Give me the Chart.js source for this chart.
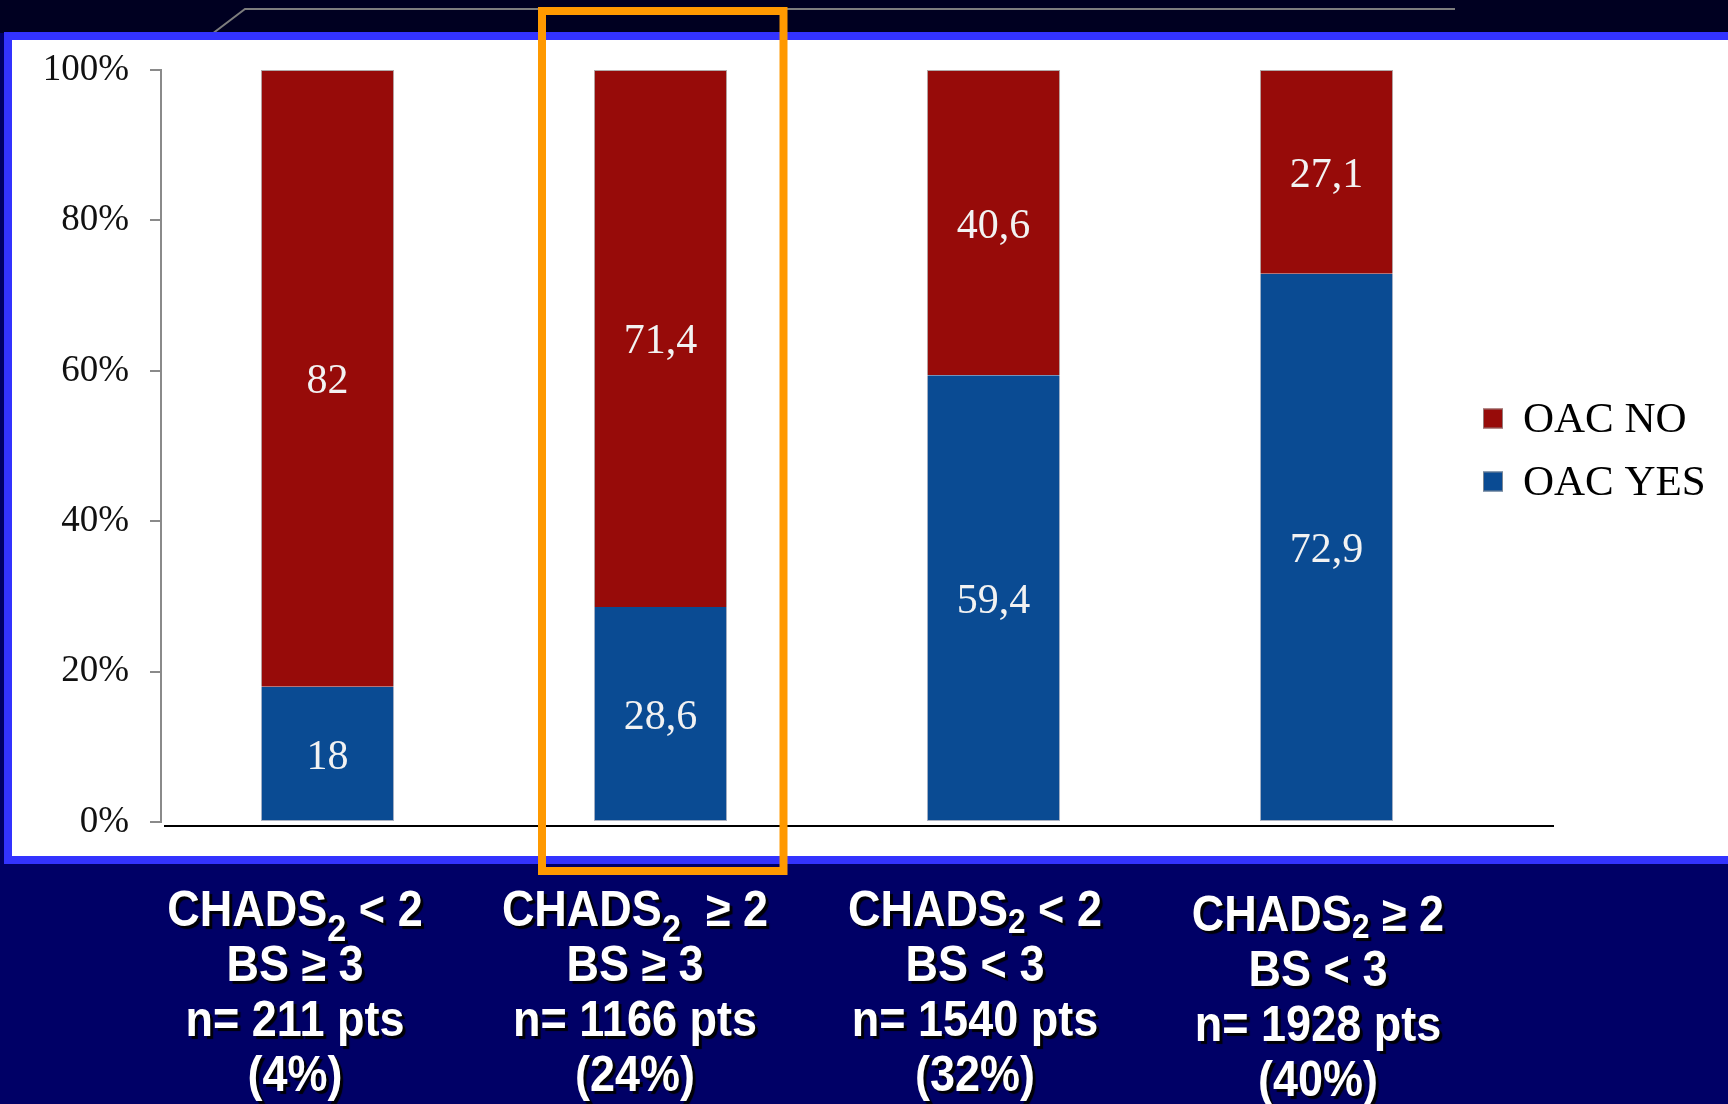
<!DOCTYPE html>
<html>
<head>
<meta charset="utf-8">
<title>OAC use by CHADS2 and bleeding score</title>
<script src="https://cdn.jsdelivr.net/npm/chart.js@4.4.1/dist/chart.umd.min.js"></script>
<style>
  html, body { margin: 0; padding: 0; background: #000066; overflow: hidden; }
  #wrap { width: 1728px; height: 1104px; }
  canvas { display: block; }
</style>
</head>
<body>
<div id="wrap"><canvas id="chart" width="1728" height="1104"></canvas></div>
<script>
// ---- data ----
const chadsRule = ['< 2', '≥ 2', '< 2', '≥ 2'];
const bsRule = ['≥ 3', '≥ 3', '< 3', '< 3'];
const patientCounts = [211, 1166, 1540, 1928];
const patientShare = [4, 24, 32, 40];
const oacYes = [18, 28.6, 59.4, 72.9];
const oacNo = [82, 71.4, 40.6, 27.1];
const seriesNames = ['OAC YES', 'OAC NO'];
const percentTicks = [0, 20, 40, 60, 80, 100];

const categories = chadsRule.map((c, i) => [
  'CHADS2 ' + c,
  'BS ' + bsRule[i],
  'n= ' + patientCounts[i] + ' pts',
  '(' + patientShare[i] + '%)'
]);

// ---- styling ----
const RED = '#970b09';
const BLUE = '#0a4b93';
const SERIF = "'Liberation Serif', 'Times New Roman', serif";
const SANS = "'Liberation Sans', Arial, sans-serif";

const fmt = v => String(v).replace('.', ',');

// slide frame: dark header band, blue framed white panel, gray rule
const framePlugin = {
  id: 'frame',
  beforeDraw(chart) {
    const ctx = chart.ctx;
    const W = chart.width, H = chart.height;
    ctx.save();
    ctx.fillStyle = '#000066';
    ctx.fillRect(0, 0, W, H);
    ctx.fillStyle = '#000021';
    ctx.fillRect(0, 0, W, 33);
    // thin gray rule in the header
    ctx.strokeStyle = '#7d7d7d';
    ctx.lineWidth = 2;
    ctx.beginPath();
    ctx.moveTo(212, 34);
    ctx.lineTo(245, 9);
    ctx.lineTo(1455, 9);
    ctx.stroke();
    // white panel with blue frame
    ctx.fillStyle = '#ffffff';
    ctx.fillRect(8, 36, W, 824);
    ctx.strokeStyle = '#3333ff';
    ctx.lineWidth = 8;
    ctx.strokeRect(8, 36, W + 20, 824);
    ctx.restore();
  }
};

// value labels centred in each stacked segment
const valueLabelPlugin = {
  id: 'valueLabels',
  afterDatasetsDraw(chart) {
    const ctx = chart.ctx;
    ctx.save();
    ctx.font = '42px ' + SERIF;
    ctx.fillStyle = '#f2f2f2';
    ctx.textAlign = 'center';
    ctx.textBaseline = 'middle';
    chart.data.datasets.forEach((ds, di) => {
      const meta = chart.getDatasetMeta(di);
      meta.data.forEach((bar, i) => {
        const { x, y, base } = bar.getProps(['x', 'y', 'base'], true);
        ctx.fillText(fmt(ds.data[i]), x, (y + base) / 2 + 4);
      });
    });
    ctx.restore();
  }
};

// baseline rule, legend, group captions and highlight box
const overlayPlugin = {
  id: 'overlay',
  afterDraw(chart) {
    const ctx = chart.ctx;
    const area = chart.chartArea;
    const yScale = chart.scales.y;
    ctx.save();

    // black baseline under the bars
    const y0 = yScale.getPixelForValue(0) + 4;
    ctx.strokeStyle = '#000';
    ctx.lineWidth = 2;
    ctx.beginPath();
    ctx.moveTo(area.left + 3, y0);
    ctx.lineTo(area.right + 61, y0);
    ctx.stroke();

    // legend (top series first)
    const ds = chart.data.datasets;
    const lx = area.right - 10;
    let ly = (area.top + area.bottom) / 2 - 27.5;
    ctx.font = '43px ' + SERIF;
    ctx.textAlign = 'left';
    ctx.textBaseline = 'middle';
    for (let i = ds.length - 1; i >= 0; i--) {
      ctx.fillStyle = ds[i].backgroundColor;
      ctx.fillRect(lx, ly - 10, 20, 20);
      ctx.strokeStyle = 'rgba(150,150,150,0.8)';
      ctx.lineWidth = 1;
      ctx.strokeRect(lx + 0.5, ly - 9.5, 19, 19);
      ctx.fillStyle = '#000';
      ctx.fillText(ds[i].label, lx + 40, ly + 2);
      ly += 63;
    }

    // group captions below the panel
    const fs = 45, stretch = 1.09, lineGap = 55;
    const subLow = [true, true, false, false];
    const ruleGap = [' ', '  ', ' ', ' '];
    const capX = [295, 635, 975, 1318];
    const capY = [926, 926, 926, 931];
    ctx.fillStyle = '#ffffff';
    ctx.textBaseline = 'alphabetic';
    ctx.shadowColor = 'rgba(0,0,0,0.95)';
    ctx.shadowOffsetX = 3;
    ctx.shadowOffsetY = 3;
    ctx.shadowBlur = 1;
    categories.forEach((lines, c) => {
      lines.forEach((line, k) => {
        let segs;
        if (k === 0) {
          const rest = line.replace(/^CHADS2\s*/, '');
          segs = [
            { t: 'CHADS', size: fs, dy: 0 },
            { t: '2', size: fs * (subLow[c] ? 0.76 : 0.7), dy: subLow[c] ? 14 : 6 },
            { t: ruleGap[c] + rest, size: fs, dy: 0 }
          ];
        } else {
          segs = [{ t: line, size: fs, dy: 0 }];
        }
        let total = 0;
        segs.forEach(s => {
          ctx.font = 'bold ' + s.size + 'px ' + SANS;
          s.w = ctx.measureText(s.t).width;
          total += s.w;
        });
        let x = capX[c] - total / 2;
        const base = capY[c] + k * lineGap;
        segs.forEach(s => {
          ctx.save();
          ctx.font = 'bold ' + s.size + 'px ' + SANS;
          ctx.translate(x, base);
          ctx.scale(1, stretch);
          ctx.fillText(s.t, 0, s.dy);
          ctx.restore();
          x += s.w;
        });
      });
    });
    ctx.shadowColor = 'transparent';

    // highlight box around the second group
    ctx.strokeStyle = '#ff9900';
    ctx.lineWidth = 8;
    ctx.strokeRect(542, 11, 241.5, 860);

    ctx.restore();
  }
};

new Chart(document.getElementById('chart'), {
  type: 'bar',
  data: {
    labels: categories,
    datasets: [
      {
        label: seriesNames[0],
        data: oacYes,
        backgroundColor: BLUE,
        borderColor: 'rgba(160,170,190,0.9)',
        borderWidth: { top: 0, left: 1, right: 1, bottom: 1 },
        borderSkipped: false,
        barPercentage: 0.4,
        categoryPercentage: 1
      },
      {
        label: seriesNames[1],
        data: oacNo,
        backgroundColor: RED,
        borderColor: 'rgba(170,160,160,0.9)',
        borderWidth: { top: 1, left: 1, right: 1, bottom: 0 },
        borderSkipped: false,
        barPercentage: 0.4,
        categoryPercentage: 1
      }
    ]
  },
  options: {
    responsive: false,
    animation: false,
    devicePixelRatio: 1,
    layout: { padding: { left: 0, top: 70, right: 235, bottom: 282 } },
    plugins: {
      legend: { display: false },
      tooltip: { enabled: false },
      title: { display: false }
    },
    scales: {
      x: {
        stacked: true,
        display: false
      },
      y: {
        stacked: true,
        min: 0,
        max: 100,
        afterBuildTicks: s => { s.ticks = percentTicks.map(v => ({ value: v })); },
        afterFit: s => { s.width = 161; },
        ticks: {
          callback: v => v + '%',
          font: { family: SERIF, size: 37 },
          color: '#111',
          padding: 21
        },
        grid: {
          drawOnChartArea: false,
          drawTicks: true,
          tickLength: 11,
          color: '#8a8a8a',
          lineWidth: 2
        },
        border: { color: '#8a8a8a', width: 2 }
      }
    }
  },
  plugins: [framePlugin, valueLabelPlugin, overlayPlugin]
});
</script>
</body>
</html>
